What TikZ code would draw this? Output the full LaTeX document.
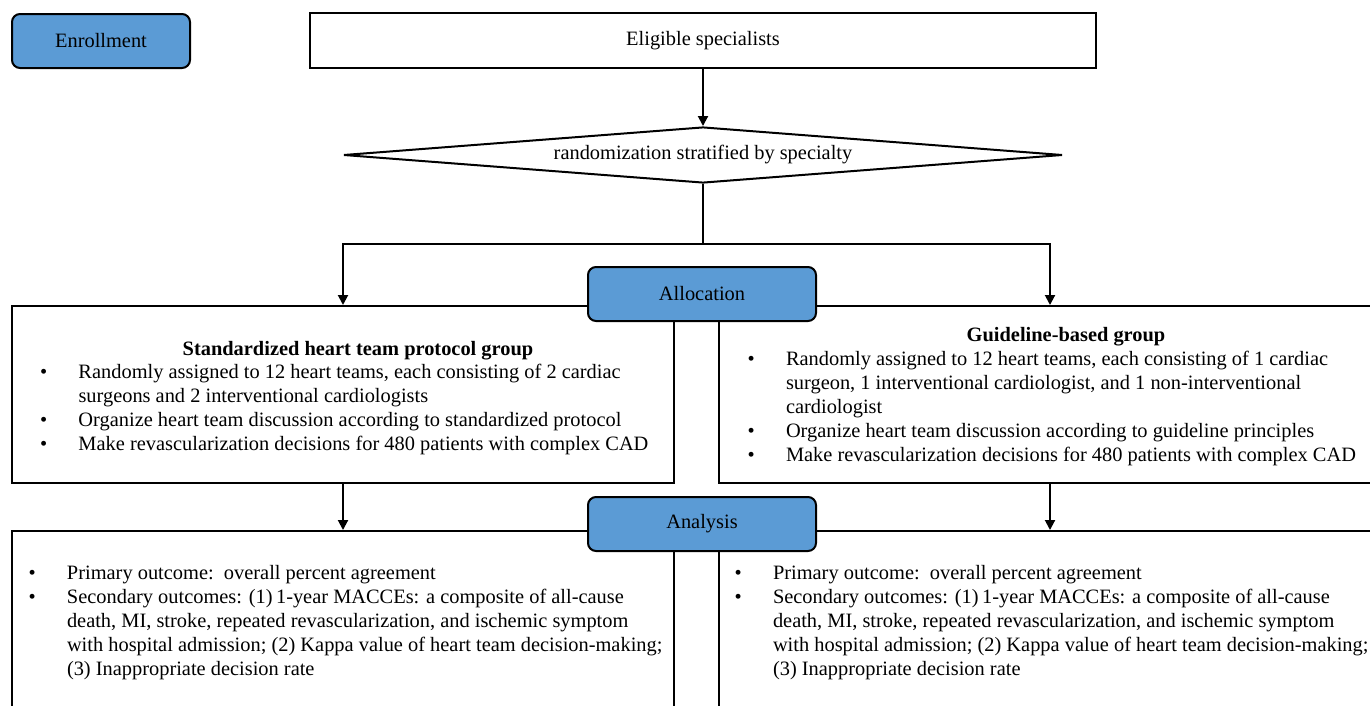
\documentclass[tikz,border=0pt]{standalone}
\usepackage{fontspec}
\setmainfont{Liberation Serif}
\usepackage{array}
\usetikzlibrary{arrows.meta}
\usetikzlibrary{shapes.geometric}
\definecolor{stageblue}{HTML}{5B9BD5}

\begin{document}
\begin{tikzpicture}
	[x=1pt,y=-1pt,line width=2pt,
	every node/.style={font=\fontsize{20.4}{24}\selectfont},
	stage/.style={rectangle,rounded corners=8pt,draw,fill=stageblue,minimum width=228pt,minimum height=54pt,inner sep=0pt},
	plainbox/.style={rectangle,draw,inner sep=0pt},
	listtext/.style={inner sep=0pt,anchor=base west},
	titletext/.style={inner sep=0pt,anchor=base,font=\fontsize{20.4}{24}\selectfont\bfseries},
	arr/.style={-{Triangle[length=10pt,width=10pt]}}]
	\useasboundingbox (0,0) rectangle (1370,705);
	\clip (0,0) rectangle (1370,705);

	\node[stage,minimum width=178pt] (enroll) at (101,41) {Enrollment};
	\node[plainbox,minimum width=786pt,minimum height=55pt] (elig) at (703,40.5) {\raisebox{-2pt}{Eligible specialists}};
	\node[diamond,draw,fill=white,inner sep=0pt,shape aspect=12.8,minimum width=719pt,minimum height=56pt] (rand) at (703,155) {randomization stratified by specialty};
	\coordinate (split) at (703,244);

	\node[plainbox,minimum width=662pt,minimum height=177pt] (stdbox) at (343,394.5) {};
	\node[plainbox,minimum width=694pt,minimum height=177pt] (gdlbox) at (1066,394.5) {};
	\node[plainbox,minimum width=662pt,minimum height=250pt] (stdout) at (343,656) {};
	\node[plainbox,minimum width=694pt,minimum height=250pt] (gdlout) at (1066,656) {};

	\foreach \from/\to in {elig/rand, stdbox/stdout}
	\draw[arr] (\from) -- (\to);
	\draw (rand) -- (split);
	\draw[arr] (split) -| (stdbox);
	\draw[arr] (split) -| ([xshift=-16pt]gdlbox.north);
	\draw[arr] ([xshift=-16pt]gdlbox.south) -- ([xshift=-16pt]gdlout.north);

	\node[stage] (alloc) at (702,294) {Allocation};
	\node[stage] (analysis) at (702,524) {Analysis};

	\node[titletext] (stdtitle) at (358,355) {Standardized heart team protocol group};
	\node[listtext] (stdtxt) at (39,378) {\begin{tabular}[t]{@{}p{38.5pt}@{}l@{}}
	\textbullet & Randomly assigned to 12 heart teams, each consisting of 2 cardiac\\
	 & surgeons and 2 interventional cardiologists\\
	\textbullet & Organize heart team discussion according to standardized protocol\\
	\textbullet & Make revascularization decisions for 480 patients with complex CAD
	\end{tabular}};

	\node[titletext] (gdltitle) at (1066,341) {Guideline-based group};
	\node[listtext] (gdltxt) at (746.5,365) {\begin{tabular}[t]{@{}p{38.5pt}@{}l@{}}
	\textbullet & Randomly assigned to 12 heart teams, each consisting of 1 cardiac\\
	 & surgeon, 1 interventional cardiologist, and 1 non-interventional\\
	 & cardiologist\\
	\textbullet & Organize heart team discussion according to guideline principles\\
	\textbullet & Make revascularization decisions for 480 patients with complex CAD
	\end{tabular}};

	\node[listtext] (stdres) at (27.5,579) {\begin{tabular}[t]{@{}p{38.5pt}@{}l@{}}
	\textbullet & Primary outcome:\ \ overall percent agreement\\
	\textbullet & Secondary outcomes: (1)\,1-year MACCEs: a composite of all-cause\\
	 & death, MI, stroke, repeated revascularization, and ischemic symptom\\
	 & with hospital admission; (2) Kappa value of heart team decision-making;\\
	 & (3) Inappropriate decision rate
	\end{tabular}};

	\node[listtext] (gdlres) at (733.5,579) {\begin{tabular}[t]{@{}p{38.5pt}@{}l@{}}
	\textbullet & Primary outcome:\ \ overall percent agreement\\
	\textbullet & Secondary outcomes: (1)\,1-year MACCEs: a composite of all-cause\\
	 & death, MI, stroke, repeated revascularization, and ischemic symptom\\
	 & with hospital admission; (2) Kappa value of heart team decision-making;\\
	 & (3) Inappropriate decision rate
	\end{tabular}};
\end{tikzpicture}
\end{document}
